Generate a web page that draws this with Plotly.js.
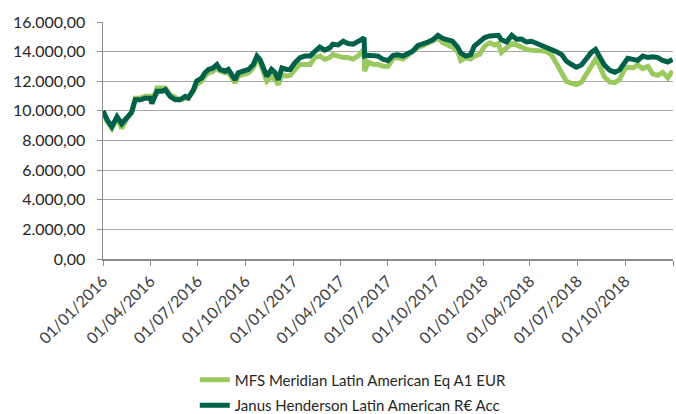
<!DOCTYPE html>
<html>
<head>
<meta charset="utf-8">
<script src="https://cdn.plot.ly/plotly-3.0.1.min.js"></script>
<style>html,body{margin:0;padding:0;background:#fff;}#chart{width:676px;height:414px;}</style>
</head>
<body>
<div id="chart"></div>
<script>
const dates = ["2016-01-01","2016-01-09","2016-01-18","2016-01-28","2016-02-06","2016-02-16","2016-02-25","2016-03-03","2016-03-13","2016-03-22","2016-04-01","2016-04-04","2016-04-14","2016-04-23","2016-04-30","2016-05-09","2016-05-19","2016-05-28","2016-06-07","2016-06-13","2016-06-23","2016-06-29","2016-07-09","2016-07-15","2016-07-22","2016-07-31","2016-08-07","2016-08-13","2016-08-23","2016-08-29","2016-09-05","2016-09-11","2016-09-17","2016-09-27","2016-10-07","2016-10-16","2016-10-23","2016-10-29","2016-11-04","2016-11-11","2016-11-20","2016-11-27","2016-12-03","2016-12-10","2016-12-19","2016-12-26","2017-01-04","2017-01-14","2017-01-23","2017-02-02","2017-02-11","2017-02-21","2017-03-02","2017-03-12","2017-03-18","2017-03-28","2017-04-07","2017-04-16","2017-04-26","2017-05-05","2017-05-14","2017-05-17","2017-05-18","2017-05-25","2017-06-04","2017-06-13","2017-06-23","2017-07-02","2017-07-12","2017-07-21","2017-07-31","2017-08-09","2017-08-19","2017-08-28","2017-09-07","2017-09-17","2017-09-26","2017-10-06","2017-10-15","2017-10-25","2017-11-03","2017-11-13","2017-11-19","2017-11-29","2017-12-08","2017-12-15","2017-12-25","2018-01-04","2018-01-14","2018-01-23","2018-01-30","2018-02-05","2018-02-15","2018-02-25","2018-03-06","2018-03-16","2018-03-25","2018-04-04","2018-04-14","2018-04-23","2018-05-03","2018-05-12","2018-05-22","2018-06-01","2018-06-10","2018-06-20","2018-06-29","2018-07-09","2018-07-18","2018-07-28","2018-08-05","2018-08-13","2018-08-22","2018-09-01","2018-09-11","2018-09-20","2018-09-30","2018-10-06","2018-10-16","2018-10-25","2018-11-04","2018-11-14","2018-11-23","2018-12-03","2018-12-12","2018-12-22","2018-12-31"];

const janus = [10000,9390,8930,9610,9130,9600,9900,10750,10750,10860,10860,10500,11320,11320,11430,10980,10750,10750,10980,10870,11430,12000,12230,12570,12800,12900,13130,12800,12680,12800,12450,12100,12570,12680,12800,13130,13700,13470,13000,12340,12800,12570,12100,12900,12800,12800,13250,13590,13700,13700,14000,14300,14100,14250,14500,14450,14700,14550,14500,14650,14850,14950,13700,13750,13750,13700,13470,13400,13750,13780,13700,13900,14050,14400,14500,14650,14800,15100,14900,14750,14700,14300,13900,13700,13800,14380,14720,14950,15060,15060,15100,14800,14650,15100,14840,14850,14650,14700,14550,14450,14350,14200,14000,13800,13360,13130,12950,13100,13500,13950,14150,13650,13100,12750,12600,12750,13300,13550,13480,13400,13700,13600,13650,13600,13400,13300,13480];

const mfs = [10000,9280,8820,9500,8820,9500,9900,10860,10860,10980,10980,10600,11540,11540,11540,11090,10860,10750,10860,10860,11320,11770,12000,12340,12570,12680,12900,12680,12570,12570,12230,11890,12340,12450,12570,12900,13470,13250,12680,12000,12340,12110,11770,12450,12340,12400,12800,13130,13130,13130,13600,13700,13480,13600,13800,13700,13600,13600,13500,13700,14050,14160,12680,13300,13150,13130,13020,13020,13550,13600,13500,13750,13950,14270,14400,14600,14750,14900,14600,14450,14300,14000,13400,13600,13500,13700,13810,14380,14600,14450,14550,13950,14250,14550,14450,14270,14150,14100,14100,14050,14000,13800,13200,12600,12000,11850,11780,11950,12500,13100,13470,13050,12300,11950,11900,12100,12800,12950,12900,13100,12850,13000,12500,12400,12600,12230,12700];

const seriesNames = ["MFS Meridian Latin American Eq A1 EUR","Janus Henderson Latin American R€ Acc"];
const colors = ["#9BC95F","#00604A"];

const traces = [
  {x: dates, y: mfs, name: seriesNames[0], legendgroup: "a", type: "scatter", mode: "lines", line: {color: colors[0], width: 5}},
  {x: dates, y: janus, name: seriesNames[1], legendgroup: "b", type: "scatter", mode: "lines", line: {color: colors[1], width: 5}}
];

const font = "Lato, 'Open Sans', sans-serif";
const layout = {
  width: 676, height: 414,
  margin: {l: 103, r: 3, t: 22, b: 155, autoexpand: false},
  paper_bgcolor: "#fff", plot_bgcolor: "#fff",
  separators: ",.",
  font: {family: font, size: 14, color: "#404040"},
  showlegend: true,
  legend: {orientation: "v", x: 0.161, xanchor: "left", y: -0.686, yanchor: "bottom",
           font: {family: font, size: 15, color: "#262626"}, tracegroupgap: 3, bgcolor: "rgba(0,0,0,0)"},
  xaxis: {
    type: "date",
    range: ["2016-01-01", "2019-01-01"],
    tick0: "2016-01-01", dtick: "M3",
    tickformat: "%d/%m/%Y",
    tickangle: -45,
    ticks: "outside", ticklen: 5, tickcolor: "#8c8c8c",
    showline: true, linecolor: "#8c8c8c", linewidth: 1.5,
    showgrid: false, zeroline: false,
    tickfont: {family: font, size: 16, color: "#404040"}
  },
  yaxis: {
    range: [0, 16000],
    dtick: 2000,
    tickformat: ",.2f",
    ticks: "outside", ticklen: 5, tickcolor: "#8c8c8c",
    showline: true, linecolor: "#8c8c8c", linewidth: 1.5,
    showgrid: true, gridcolor: "#a6a6a6", gridwidth: 1,
    zeroline: false,
    ticklabelstandoff: 8,
    tickfont: {family: font, size: 16, color: "#262626"}
  }
};

Plotly.newPlot("chart", traces, layout, {staticPlot: true, displayModeBar: false});
</script>
</body>
</html>
